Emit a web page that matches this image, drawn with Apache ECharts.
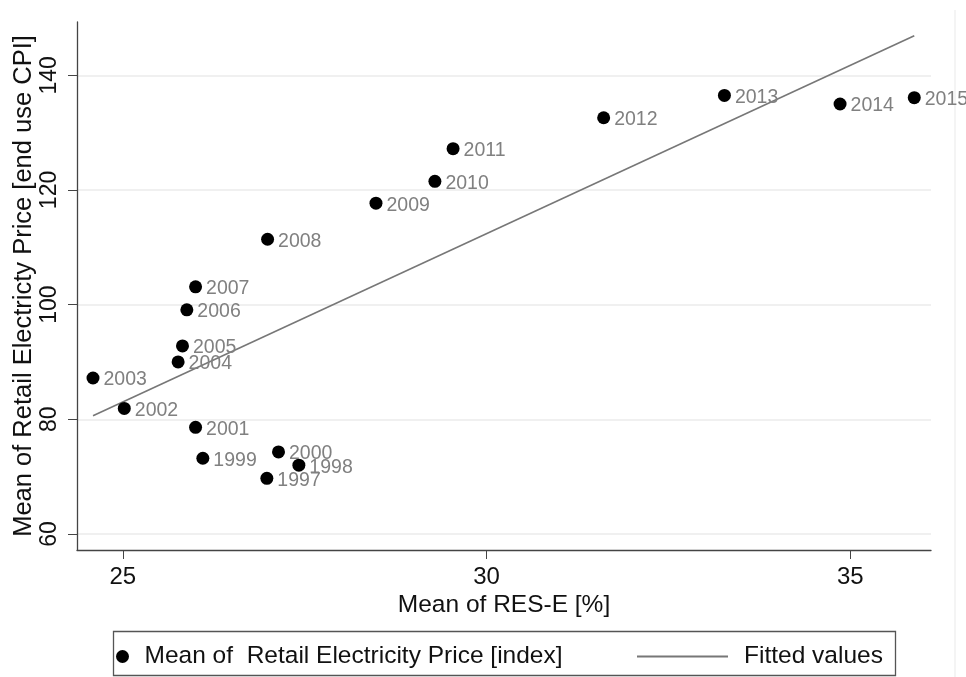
<!DOCTYPE html>
<html>
<head>
<meta charset="utf-8">
<script src="https://cdn.jsdelivr.net/npm/echarts@6/dist/echarts.min.js"></script>
<style>
  html, body { margin: 0; padding: 0; background: #fff; }
  #chart { width: 966px; height: 677px; }
</style>
</head>
<body>
<div id="chart"></div>
<script>
// values
const years = ['1997', '1998', '1999', '2000', '2001', '2002', '2003', '2004', '2005',
  '2006', '2007', '2008', '2009', '2010', '2011', '2012', '2013', '2014', '2015'];
const resShare = [26.98, 27.42, 26.10, 27.14, 26.00, 25.02, 24.59, 25.76, 25.82,
  25.88, 26.00, 26.99, 28.48, 29.29, 29.54, 31.61, 33.27, 34.86, 35.88];
const priceIndex = [69.7, 72.0, 73.2, 74.3, 78.6, 81.9, 87.2, 90.0, 92.8,
  99.1, 103.1, 111.4, 117.7, 121.5, 127.2, 132.6, 136.5, 135.0, 136.1];
// fitted line end points
const fitX = [24.59, 35.88];
const fitY = [80.6, 146.9];
const xTicks = [25, 30, 35];
const yTicks = [60, 80, 100, 120, 140];

const font = 'Liberation Sans, Arial, Helvetica, sans-serif';
const chart = echarts.init(document.getElementById('chart'));

chart.setOption({
  animation: false,
  backgroundColor: '#fff',
  textStyle: { fontFamily: font },
  grid: { left: 77, right: 35, top: 22, bottom: 127, outerBoundsMode: 'none', containLabel: false },
  xAxis: {
    type: 'value',
    min: 24.37,
    max: 36.11,
    name: 'Mean of RES-E [%]',
    nameLocation: 'middle',
    nameGap: 43,
    nameMoveOverlap: false,
    nameTextStyle: { fontSize: 24.5, color: '#111', fontFamily: font },
    axisLine: { lineStyle: { color: '#444', width: 1.3 } },
    axisTick: { length: 9, lineStyle: { color: '#444' }, customValues: xTicks },
    axisLabel: { fontSize: 24, color: '#111', margin: 15, customValues: xTicks, fontFamily: font },
    splitLine: { show: false }
  },
  yAxis: {
    type: 'value',
    min: 57.2,
    max: 149.3,
    name: 'Mean of Retail Electricty Price [end use CPI]',
    nameLocation: 'middle',
    nameGap: 40,
    nameMoveOverlap: false,
    nameTextStyle: { fontSize: 25.5, color: '#111', fontFamily: font },
    axisLine: { show: true, lineStyle: { color: '#444', width: 1.3 } },
    axisTick: { show: true, length: 9, lineStyle: { color: '#444' }, customValues: yTicks },
    axisLabel: { fontSize: 23, color: '#111', rotate: 90, margin: 16, customValues: yTicks, fontFamily: font },
    splitLine: { show: true, lineStyle: { color: '#ebebeb', width: 1.5 } }
  },
  legend: [
    {
      data: [{ name: 'Mean of  Retail Electricity Price [index]', icon: 'circle', itemStyle: { color: '#000', opacity: 1 } }],
      left: 111, top: 639,
      itemWidth: 34, itemHeight: 13,
      textStyle: { fontSize: 24.5, color: '#111', fontFamily: font }
    },
    {
      data: [{ name: 'Fitted values', icon: 'rect', itemStyle: { color: '#777' } }],
      left: 632, top: 639,
      itemWidth: 91, itemHeight: 1.8,
      textStyle: { fontSize: 24.5, color: '#111', padding: [0, 0, 0, 11], fontFamily: font }
    }
  ],
  graphic: [
    {
      type: 'rect',
      shape: { x: 113.5, y: 631.5, width: 782, height: 44 },
      style: { fill: 'none', stroke: '#555', lineWidth: 1.3 },
      silent: true
    },
    {
      type: 'line',
      shape: { x1: 955, y1: 10, x2: 955, y2: 677 },
      style: { stroke: '#f0f0f0', lineWidth: 1.5 },
      silent: true
    }
  ],
  series: [
    {
      name: 'Fitted values',
      type: 'line',
      data: fitX.map((x, i) => [x, fitY[i]]),
      symbol: 'none',
      showSymbol: false,
      itemStyle: { color: '#777' },
      lineStyle: { color: '#777', width: 1.6 },
      z: 2
    },
    {
      name: 'Mean of  Retail Electricity Price [index]',
      type: 'scatter',
      data: resShare.map((x, i) => [x, priceIndex[i], years[i]]),
      symbolSize: 13,
      itemStyle: { color: '#000', opacity: 1 },
      label: {
        show: true,
        position: 'right',
        distance: 4,
        offset: [0, 2],
        formatter: p => p.value[2],
        fontSize: 19.5,
        color: '#808080',
        fontFamily: font
      },
      z: 3
    }
  ]
});
</script>
</body>
</html>
